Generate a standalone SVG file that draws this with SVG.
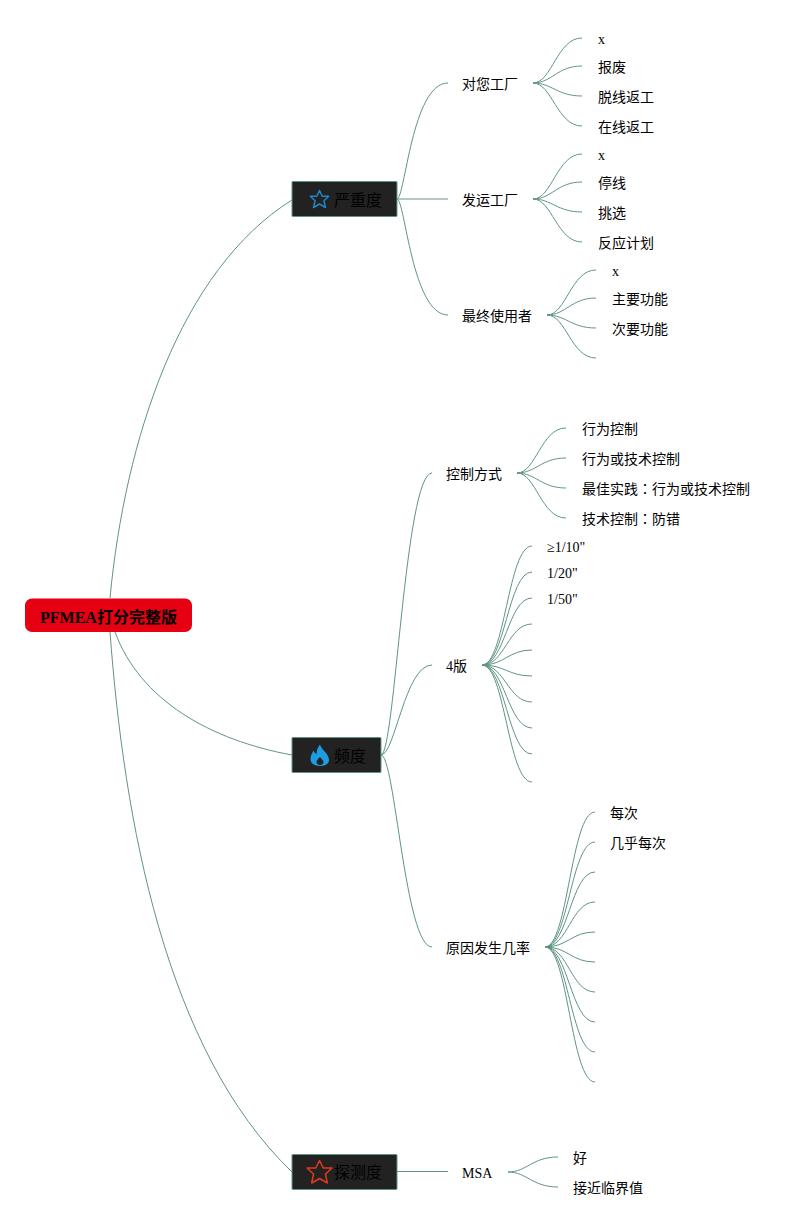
<svg xmlns="http://www.w3.org/2000/svg" width="810" height="1227" viewBox="0 0 810 1227">
<style>
text{font-family:"Liberation Serif","Noto Sans CJK SC",serif;font-size:14px;fill:#000}
.c path{fill:none;stroke:#5f9583;stroke-width:1}
.n{fill:#222;stroke:#5f9583;stroke-width:1}
.t{font-size:16px}
.r{font-size:16px;font-weight:bold}
.i{fill:none;stroke-width:1.500;stroke-linejoin:round}
.p{font-family:"Noto Sans CJK TC",sans-serif}
</style>
<rect width="810" height="1227" fill="#fff"/>
<g class="c" id="connectors">
<path d="M110 598C125 440 180 270 292 200"/>
<path d="M115 632C140 700 210 740 292 755"/>
<path d="M110 632C124 820 165 1050 292 1172"/>
<path d="M397 199C405 199 412 83 448 83"/>
<path d="M397 199H448"/>
<path d="M397 199C405 199 412 315 448 315"/>
<path d="M381 755C395 755 405 473 432 473"/>
<path d="M381 755C395 755 405 665 432 665"/>
<path d="M381 755C395 755 405 947 432 947"/>
<path d="M397 1171.500H448"/>
<path d="M533 83C552 83 557 38 582 38"/>
<path d="M533 83C552 83 557 66 582 66"/>
<path d="M533 83C552 83 557 96 582 96"/>
<path d="M533 83C552 83 557 126 582 126"/>
<path d="M533 199C552 199 557 154 582 154"/>
<path d="M533 199C552 199 557 182 582 182"/>
<path d="M533 199C552 199 557 212 582 212"/>
<path d="M533 199C552 199 557 242 582 242"/>
<path d="M547 315C566 315 571 270 596 270"/>
<path d="M547 315C566 315 571 298 596 298"/>
<path d="M547 315C566 315 571 328 596 328"/>
<path d="M547 315C566 315 571 358 596 358"/>
<path d="M517 473C536 473 541 428 566 428"/>
<path d="M517 473C536 473 541 458 566 458"/>
<path d="M517 473C536 473 541 488 566 488"/>
<path d="M517 473C536 473 541 518 566 518"/>
<path d="M482 665C505 665 508 546 532 546"/>
<path d="M482 665C505 665 508 572 532 572"/>
<path d="M482 665C505 665 508 598 532 598"/>
<path d="M482 665C505 665 508 624 532 624"/>
<path d="M482 665C505 665 508 650 532 650"/>
<path d="M482 665C505 665 508 676 532 676"/>
<path d="M482 665C505 665 508 702 532 702"/>
<path d="M482 665C505 665 508 728 532 728"/>
<path d="M482 665C505 665 508 754 532 754"/>
<path d="M482 665C505 665 508 782 532 782"/>
<path d="M545 947C568 947 571 812 595 812"/>
<path d="M545 947C568 947 571 842 595 842"/>
<path d="M545 947C568 947 571 872 595 872"/>
<path d="M545 947C568 947 571 902 595 902"/>
<path d="M545 947C568 947 571 932 595 932"/>
<path d="M545 947C568 947 571 962 595 962"/>
<path d="M545 947C568 947 571 992 595 992"/>
<path d="M545 947C568 947 571 1022 595 1022"/>
<path d="M545 947C568 947 571 1052 595 1052"/>
<path d="M545 947C568 947 571 1082 595 1082"/>
<path d="M508 1172C527 1172 532 1157 558 1157"/>
<path d="M508 1172C527 1172 532 1187 558 1187"/>
</g>
<g id="root"><rect x="25" y="598.500" width="167" height="33.500" rx="7" fill="#e60012"/><text class="r" x="40" y="623">PFMEA打分完整版</text></g>
<g id="severity"><rect class="n" x="292" y="181.500" width="105" height="35" rx="1"/><path class="i" stroke="#1f86c8" d="M319.500 190.500l2.700 5.800h6.500l-4.800 4.500 1.600 6.700-6-3.500-6 3.500 1.600-6.700-4.800-4.500h6.500z"/><text class="t" x="334" y="206">严重度</text></g>
<g id="frequency"><rect class="n" x="292" y="737.500" width="89" height="35" rx="1"/><path fill="#1f9be0" fill-rule="evenodd" d="M320 744.500c1 5 9 9 9 15.500 0 4-4 6-9 6s-9.500-2-9.500-7c0-4 2-6 3-8.500 1 2 2 3.500 3 3.500 0-4 1.500-7 3.500-9.500zm0 12.500c-2 2-3.500 3.500-3.500 5 0 2 1.500 3 3.500 3s3.500-1 3.500-3c0-1.500-2-3-3.500-5z"/><text class="t" x="334" y="762">频度</text></g>
<g id="detection"><rect class="n" x="292" y="1154.500" width="105" height="35" rx="1"/><path class="i" stroke="#e03a1e" d="M319.500 1160.500l3.700 7.500h8.800l-6.500 6 1.800 9-7.800-4.500-7.800 4.500 1.800-9-6.500-6h8.800z"/><text class="t" x="334" y="1178">探测度</text></g>
<g id="n1"><text x="462" y="89">对您工厂</text></g>
<g id="n2"><text x="598" y="44">x</text></g>
<g id="n3"><text x="598" y="72">报废</text></g>
<g id="n4"><text x="598" y="102">脱线返工</text></g>
<g id="n5"><text x="598" y="132">在线返工</text></g>
<g id="n6"><text x="462" y="205">发运工厂</text></g>
<g id="n7"><text x="598" y="160">x</text></g>
<g id="n8"><text x="598" y="188">停线</text></g>
<g id="n9"><text x="598" y="218">挑选</text></g>
<g id="n10"><text x="598" y="248">反应计划</text></g>
<g id="n11"><text x="462" y="321">最终使用者</text></g>
<g id="n12"><text x="612" y="276">x</text></g>
<g id="n13"><text x="612" y="304">主要功能</text></g>
<g id="n14"><text x="612" y="334">次要功能</text></g>
<g id="n15"><text x="446" y="479">控制方式</text></g>
<g id="n16"><text x="582" y="434">行为控制</text></g>
<g id="n17"><text x="582" y="464">行为或技术控制</text></g>
<g id="n18"><text x="582" y="494">最佳实践<tspan class="p">：</tspan>行为或技术控制</text></g>
<g id="n19"><text x="582" y="524">技术控制<tspan class="p">：</tspan>防错</text></g>
<g id="n20"><text x="446" y="671">4版</text></g>
<g id="n21"><text x="547" y="552">≥1/10"</text></g>
<g id="n22"><text x="547" y="578">1/20"</text></g>
<g id="n23"><text x="547" y="604">1/50"</text></g>
<g id="n24"><text x="446" y="953">原因发生几率</text></g>
<g id="n25"><text x="610" y="818">每次</text></g>
<g id="n26"><text x="610" y="848">几乎每次</text></g>
<g id="n27"><text x="462" y="1178">MSA</text></g>
<g id="n28"><text x="573" y="1163">好</text></g>
<g id="n29"><text x="573" y="1193">接近临界值</text></g>
</svg>
